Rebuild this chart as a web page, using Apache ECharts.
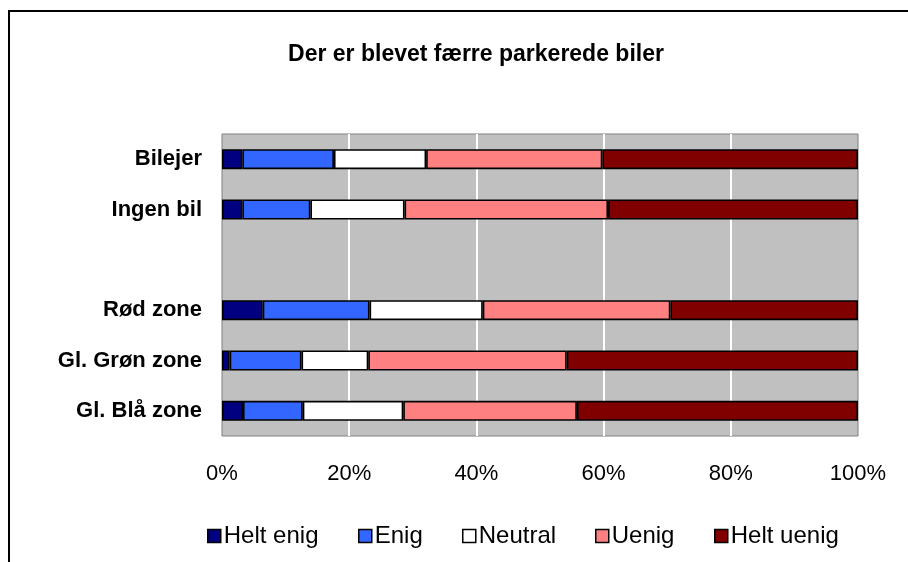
<!DOCTYPE html>
<html>
<head>
<meta charset="utf-8">
<script src="https://cdn.jsdelivr.net/npm/echarts@6/dist/echarts.min.js"></script>
<style>
  html, body { margin: 0; padding: 0; background: #fff; }
  #chart { width: 908px; height: 562px; }
</style>
</head>
<body>
<div id="chart"></div>
<script>
// kategorier (tom række som mellemrum)
var categories = ["Bilejer", "Ingen bil", "", "Rød zone", "Gl. Grøn zone", "Gl. Blå zone"];
// andele i procent
var heltEnig  = [3.2, 3.2, null, 6.4, 1.2, 3.3];
var enig      = [14.4, 10.7, null, 16.8, 11.3, 9.4];
var neutral   = [14.5, 14.8, null, 17.8, 10.5, 15.8];
var uenig     = [27.7, 32.0, null, 29.5, 31.2, 27.3];
var heltUenig = [40.2, 39.3, null, 29.5, 45.8, 44.2];
var seriesNames = ["Helt enig", "Enig", "Neutral", "Uenig", "Helt uenig"];
var colors = ["#000080", "#3366FF", "#FFFFFF", "#FF8080", "#800000"];
var legendLeft = [207, 358, 462, 595, 714];

var chart = echarts.init(document.getElementById("chart"));
var font = "Arial, 'Liberation Sans', sans-serif";
var values = [heltEnig, enig, neutral, uenig, heltUenig];

var series = seriesNames.map(function (name, i) {
  return {
    name: name,
    type: "bar",
    stack: "total",
    data: values[i],
    barWidth: 20,
    itemStyle: {
      color: colors[i],
      borderColor: "#000",
      borderWidth: 1.6
    }
  };
});

// en legend pr. serie, så placeringen passer
var legends = seriesNames.map(function (name, i) {
  return {
    data: [name],
    left: legendLeft[i],
    top: 524,
    itemWidth: 13,
    itemHeight: 13,
    padding: 0,
    icon: "rect",
    itemStyle: { borderColor: "#000", borderWidth: 1.5 },
    textStyle: { fontFamily: font, fontSize: 24, color: "#000", padding: [0, 0, 0, -2] }
  };
});

var option = {
  animation: false,
  title: {
    text: "Der er blevet færre parkerede biler",
    left: 471,
    textAlign: "center",
    top: 38,
    textStyle: { fontFamily: font, fontSize: 23, fontWeight: "bold", color: "#000" }
  },
  legend: legends,
  grid: {
    left: 222,
    right: 50,
    top: 134,
    bottom: 126,
    show: true,
    backgroundColor: "#C0C0C0",
    borderColor: "#808080",
    borderWidth: 1
  },
  xAxis: {
    type: "value",
    min: 0,
    max: 100,
    interval: 20,
    axisLine: { show: false },
    axisTick: { show: false },
    axisLabel: {
      formatter: "{value}%",
      fontFamily: font,
      fontSize: 22,
      color: "#000",
      margin: 27
    },
    splitLine: {
      show: true,
      showMinLine: false,
      showMaxLine: false,
      lineStyle: { color: "#FFFFFF", width: 2 }
    }
  },
  yAxis: {
    type: "category",
    inverse: true,
    data: categories,
    axisLine: { show: false },
    axisTick: { show: false },
    axisLabel: {
      fontFamily: font,
      fontSize: 22,
      fontWeight: "bold",
      color: "#000",
      margin: 20
    }
  },
  graphic: [
    {
      type: "rect",
      shape: { x: 9, y: 11, width: 1000, height: 1000 },
      style: { fill: null, stroke: "#000", lineWidth: 2 },
      silent: true
    }
  ],
  series: series
};

chart.setOption(option);
</script>
</body>
</html>
